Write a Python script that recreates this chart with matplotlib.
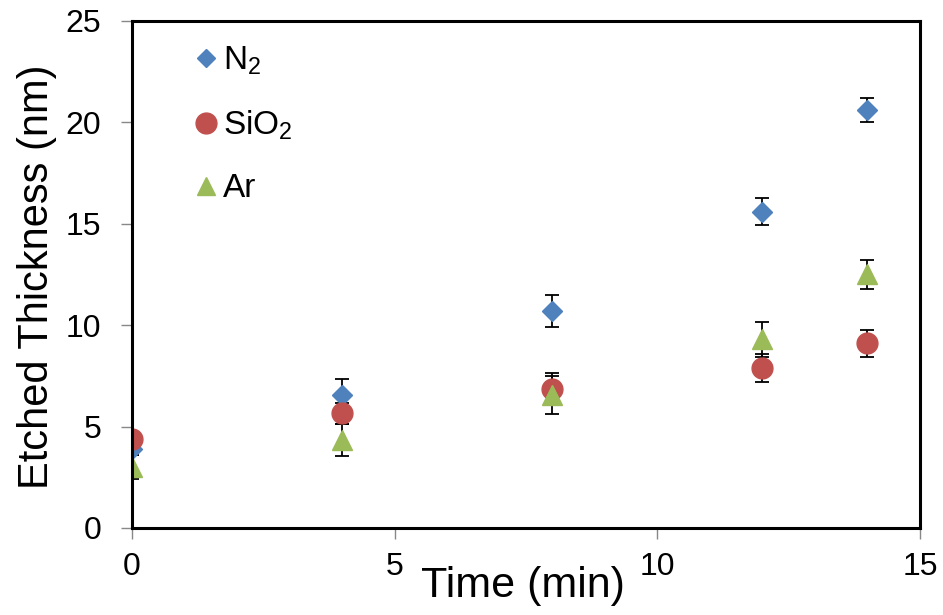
import matplotlib
matplotlib.use("Agg")
import matplotlib.pyplot as plt
from matplotlib.lines import Line2D

plt.rcParams['font.family'] = ['Liberation Sans', 'DejaVu Sans']
plt.rcParams['mathtext.fontset'] = 'custom'
plt.rcParams['mathtext.rm'] = 'Liberation Sans'

# data
time = [0, 4, 8, 12, 14]
n2 = [3.9, 6.55, 10.7, 15.6, 20.6]
n2_err = [0.3, 0.8, 0.8, 0.65, 0.6]
sio2 = [4.4, 5.65, 6.85, 7.9, 9.1]
sio2_err = [0.3, 0.5, 0.8, 0.7, 0.65]
ar = [3.0, 4.35, 6.55, 9.3, 12.5]
ar_err = [0.6, 0.8, 0.95, 0.85, 0.7]

blue = "#4f81bd"
red = "#c0504d"
green = "#9bbb59"

fig = plt.figure(figsize=(9.43, 6.15), dpi=100)
ax = fig.add_axes([0.140, 0.1415, 0.8356, 0.8245])

ebkw = dict(ecolor="black", elinewidth=1.3, capsize=5, capthick=1.3, linestyle="none")
ax.errorbar(time, n2, yerr=n2_err, marker="D", ms=10, color=blue, mec=blue, **ebkw)
ax.errorbar(time, sio2, yerr=sio2_err, marker="o", ms=15, color=red, mec=red, **ebkw)
ax.errorbar(time, ar, yerr=ar_err, marker="^", ms=14, color=green, mec=green, **ebkw)

ax.set_xlim(0, 15)
ax.set_ylim(0, 25)
ax.set_xticks([0, 5, 10, 15])
ax.set_yticks([0, 5, 10, 15, 20, 25])

for s in ax.spines.values():
    s.set_linewidth(2.2)
    s.set_color("black")
ax.tick_params(direction="out", length=8, width=1, color="#888888",
               labelsize=23, labelcolor="black")
ax.tick_params(axis="y", pad=14)
ax.tick_params(axis="x", pad=9)

ax.set_xlabel("Time (min)", fontsize=31)
ax.xaxis.set_label_coords(0.496, -0.075)
ax.set_ylabel("Etched Thickness (nm)", fontsize=30, va="center")
ax.yaxis.set_label_coords(-0.12, 0.495)

handles = [
    Line2D([], [], marker="D", ms=9, color=blue, linestyle="none"),
    Line2D([], [], marker="o", ms=15, color=red, linestyle="none"),
    Line2D([], [], marker="^", ms=13, color=green, linestyle="none"),
]
labels = [r"$\mathregular{N_2}$", r"$\mathregular{SiO_2}$", "Ar"]
ax.legend(handles, labels, loc="upper left", bbox_to_anchor=(0.05, 1.0),
          frameon=False, fontsize=24, handlelength=0.7, handletextpad=0.15,
          labelspacing=0.95, borderaxespad=0.3)

fig.savefig("out.png", dpi=100)
